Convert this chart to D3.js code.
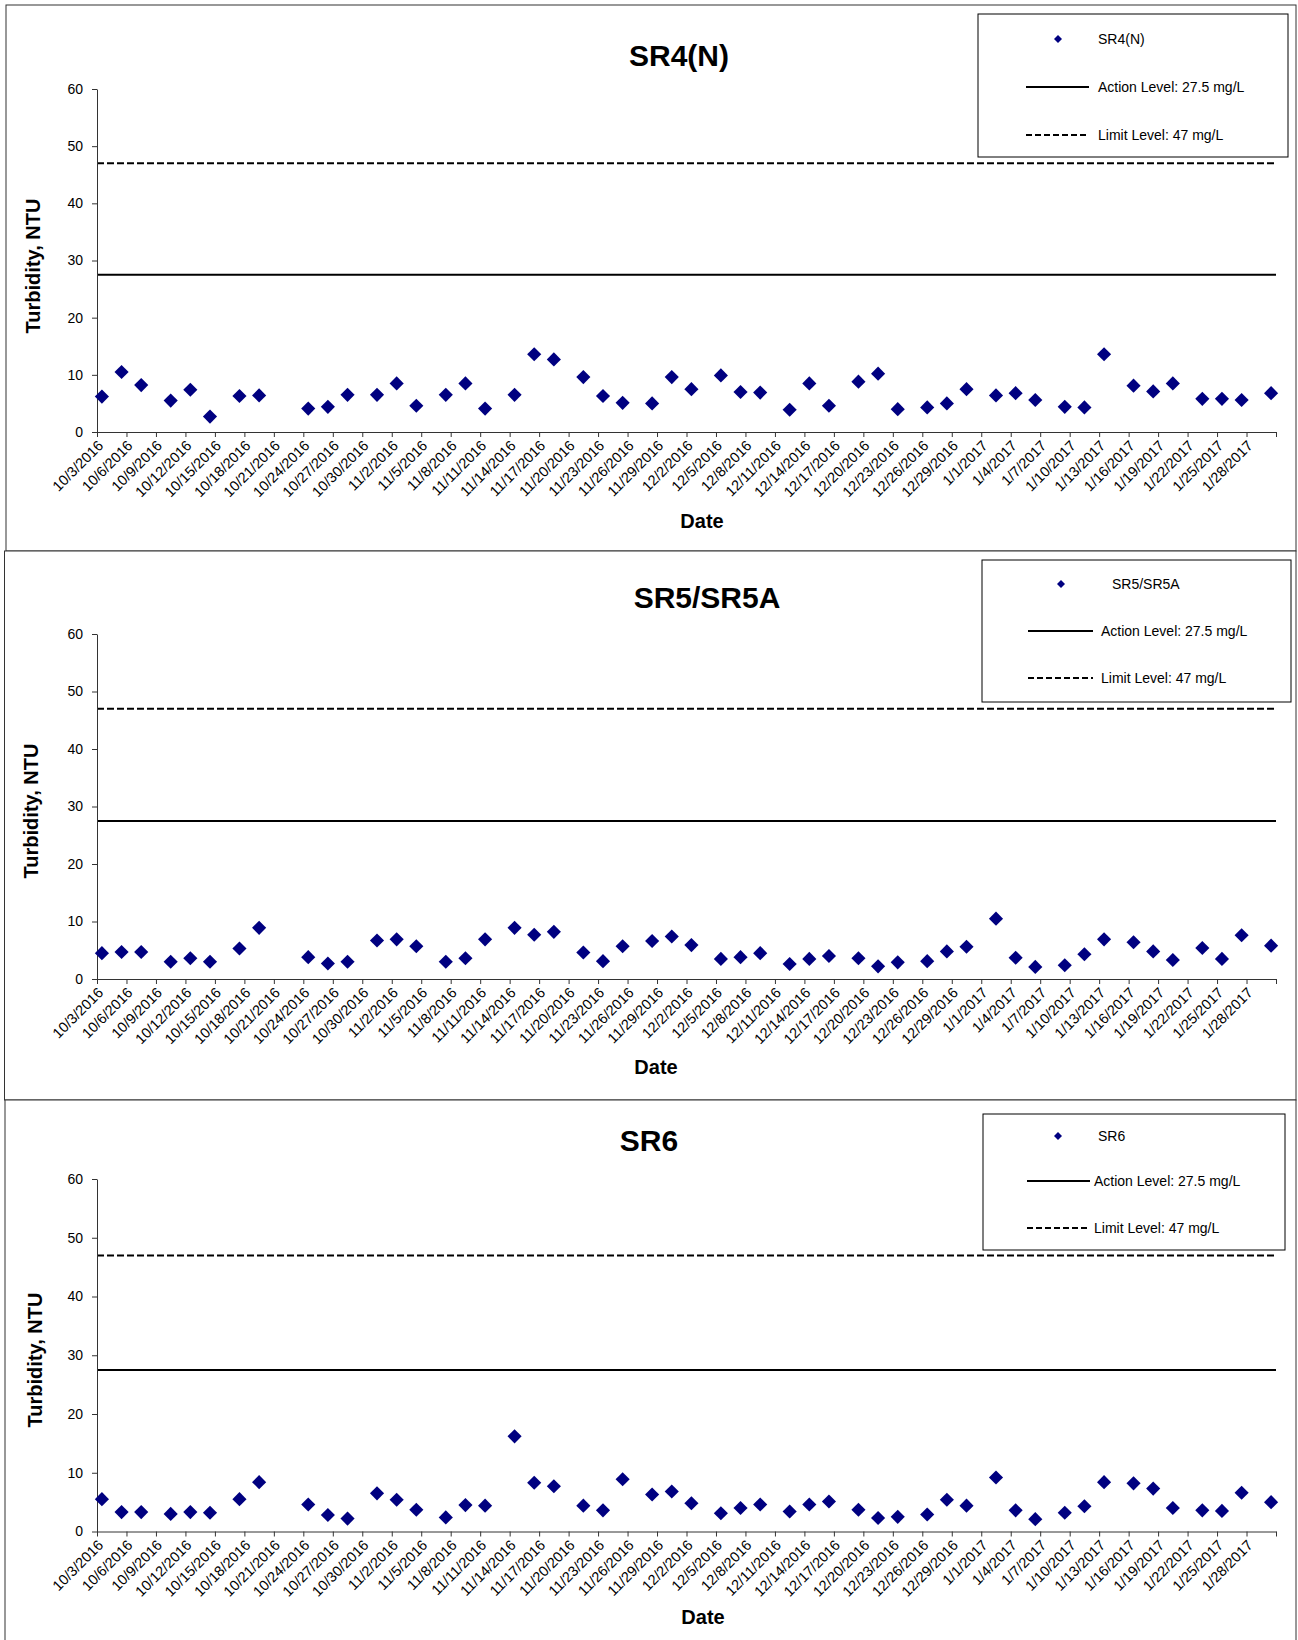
<!DOCTYPE html>
<html><head><meta charset="utf-8">
<script src="https://cdn.jsdelivr.net/npm/d3@7"></script>
<style>
html,body{margin:0;padding:0;background:#fff;}
svg{display:block;font-family:"Liberation Sans",Arial,sans-serif;}
</style></head><body>
<svg id="c" width="1298" height="1640"></svg>
<script>
// ---------------- DATA ----------------
const sampleDates = ["10/3/2016","10/5/2016","10/7/2016","10/10/2016","10/12/2016","10/14/2016","10/17/2016","10/19/2016",
"10/24/2016","10/26/2016","10/28/2016","10/31/2016","11/2/2016","11/4/2016","11/7/2016","11/9/2016","11/11/2016",
"11/14/2016","11/16/2016","11/18/2016","11/21/2016","11/23/2016","11/25/2016","11/28/2016","11/30/2016","12/2/2016",
"12/5/2016","12/7/2016","12/9/2016","12/12/2016","12/14/2016","12/16/2016","12/19/2016","12/21/2016","12/23/2016",
"12/26/2016","12/28/2016","12/30/2016","1/2/2017","1/4/2017","1/6/2017","1/9/2017","1/11/2017","1/13/2017",
"1/16/2017","1/18/2017","1/20/2017","1/23/2017","1/25/2017","1/27/2017","1/30/2017"];

const sr4Values = [6.2,10.5,8.2,5.5,7.4,2.7,6.3,6.4,4.1,4.4,6.5,6.5,8.5,4.6,6.5,8.5,4.1,6.5,13.6,12.7,9.6,6.3,5.1,5.0,9.6,7.5,
9.9,7.0,6.9,3.9,8.5,4.6,8.8,10.2,4.0,4.3,5.0,7.5,6.4,6.8,5.6,4.4,4.3,13.6,8.1,7.1,8.5,5.8,5.8,5.6,6.8];
const sr5Values = [4.5,4.7,4.7,3.0,3.6,3.0,5.3,8.9,3.8,2.7,3.0,6.7,6.9,5.7,3.0,3.6,6.9,8.9,7.7,8.2,4.6,3.1,5.7,6.6,7.4,5.9,
3.5,3.8,4.5,2.6,3.5,4.0,3.6,2.2,2.9,3.1,4.8,5.6,10.5,3.7,2.1,2.4,4.3,6.9,6.4,4.8,3.3,5.4,3.5,7.6,5.8];
const sr6Values = [5.5,3.3,3.3,3.0,3.3,3.2,5.5,8.4,4.6,2.8,2.2,6.5,5.4,3.7,2.4,4.5,4.4,16.2,8.3,7.7,4.4,3.6,8.9,6.3,6.8,4.8,
3.1,4.0,4.6,3.4,4.6,5.1,3.7,2.3,2.5,2.9,5.4,4.4,9.2,3.6,2.1,3.2,4.3,8.4,8.2,7.3,4.0,3.6,3.5,6.6,5.0];

const tickLabels = ["10/3/2016","10/6/2016","10/9/2016","10/12/2016","10/15/2016","10/18/2016","10/21/2016","10/24/2016",
"10/27/2016","10/30/2016","11/2/2016","11/5/2016","11/8/2016","11/11/2016","11/14/2016","11/17/2016","11/20/2016",
"11/23/2016","11/26/2016","11/29/2016","12/2/2016","12/5/2016","12/8/2016","12/11/2016","12/14/2016","12/17/2016",
"12/20/2016","12/23/2016","12/26/2016","12/29/2016","1/1/2017","1/4/2017","1/7/2017","1/10/2017","1/13/2017",
"1/16/2017","1/19/2017","1/22/2017","1/25/2017","1/28/2017"];
const axisEndLabel = "1/31/2017";
const yTicks = [0,10,20,30,40,50,60];
const actionLevel = 27.5;
const limitLevel = 47;
const seriesNames = ["SR4(N)","SR5/SR5A","SR6"];
const legendLabels = ["Action Level: 27.5 mg/L","Limit Level: 47 mg/L"];
const yTitle = "Turbidity, NTU";
const xTitle = "Date";

// ---------------- LAYOUT ----------------
const parse = d3.utcParse("%m/%d/%Y");
const fmt = d3.utcFormat("%-m/%-d/%Y");
const svg = d3.select("#c");
const NAVY = "#000080";

const panels = [
  {name: seriesNames[0], values: sr4Values, border:[6,5,1296,551], yTop:89, yBot:432,
   title:[679,55], ytitle:[33,266], xtitle:[702,521],
   lg:{box:[978,14,1288,157], dia:[1058,39], nameX:1098, lx:[1026,1089], sy:87, dy:135, tx:1098}},
  {name: seriesNames[1], values: sr5Values, border:[4.5,551,1296,1100], yTop:634, yBot:979,
   title:[707,597], ytitle:[31,811], xtitle:[656,1067],
   lg:{box:[982,560,1291,702], dia:[1061,584], nameX:1112, lx:[1028,1093], sy:631, dy:678, tx:1101}},
  {name: seriesNames[2], values: sr6Values, border:[5,1100,1296,1660], yTop:1179, yBot:1531.5,
   title:[649,1140], ytitle:[35,1360], xtitle:[703,1617],
   lg:{box:[983,1114,1285,1250], dia:[1058,1136], nameX:1098, lx:[1027,1090], sy:1181, dy:1228, tx:1094}}
];

const x = d3.scaleUtc()
  .domain([parse(tickLabels[0]), parse(axisEndLabel)])
  .range([97, 1276]);
const tickDates = tickLabels.map(parse).concat([parse(axisEndLabel)]);

const diamond = d3.symbol(d3.symbolSquare, 100);
const diamondSmall = d3.symbol(d3.symbolSquare, 32);

panels.forEach(p => {
  const g = svg.append("g");
  const b = p.border;
  g.append("rect").attr("x", b[0]).attr("y", b[1]).attr("width", b[2]-b[0]).attr("height", b[3]-b[1])
    .attr("fill", "#fff").attr("stroke", "#333").attr("stroke-width", 1);

  const y = d3.scaleLinear().domain([0, 60]).range([p.yBot, p.yTop]);

  // reference lines
  g.append("line").attr("x1", x.range()[0]).attr("x2", x.range()[1])
    .attr("y1", y(limitLevel)).attr("y2", y(limitLevel))
    .attr("stroke", "#000").attr("stroke-width", 2).attr("stroke-dasharray", "7,3");
  g.append("line").attr("x1", x.range()[0]).attr("x2", x.range()[1])
    .attr("y1", y(actionLevel)).attr("y2", y(actionLevel))
    .attr("stroke", "#000").attr("stroke-width", 2);

  // y axis
  const ya = g.append("g").attr("transform", `translate(${x.range()[0]},0)`)
    .call(d3.axisLeft(y).tickValues(yTicks).tickSize(5).tickPadding(9).tickSizeOuter(0));
  ya.select(".domain").attr("stroke", "#333");
  ya.selectAll(".tick line").attr("stroke", "#333");
  ya.selectAll("text").attr("font-size", 14).attr("fill", "#000")
    .attr("font-family", '"Liberation Sans",Arial,sans-serif');

  // x axis
  const xa = g.append("g").attr("transform", `translate(0,${p.yBot})`)
    .call(d3.axisBottom(x).tickValues(tickDates).tickSize(5).tickSizeOuter(0)
      .tickFormat(d => tickLabels.includes(fmt(d)) ? fmt(d) : ""));
  xa.select(".domain").attr("stroke", "#333");
  xa.selectAll(".tick line").attr("stroke", "#333");
  xa.selectAll("text").attr("font-size", 14.5).attr("fill", "#000")
    .attr("font-family", '"Liberation Sans",Arial,sans-serif')
    .attr("text-anchor", "end").attr("x", 0).attr("y", 0).attr("dy", "0.35em")
    .attr("transform", "translate(3,11) rotate(-45)");

  // points
  g.selectAll("path.pt").data(p.values).enter().append("path").attr("class", "pt")
    .attr("d", diamond)
    .attr("transform", (d, i) => `translate(${x(d3.utcHour.offset(parse(sampleDates[i]), 12))},${y(d)}) rotate(45)`)
    .attr("fill", NAVY);

  // titles
  g.append("text").attr("x", p.title[0]).attr("y", p.title[1]).attr("dy", "0.35em")
    .attr("text-anchor", "middle").attr("font-size", 30).attr("font-weight", "bold").text(p.name);
  g.append("text").attr("transform", `translate(${p.ytitle[0]},${p.ytitle[1]}) rotate(-90)`).attr("dy", "0.35em")
    .attr("text-anchor", "middle").attr("font-size", 20).attr("font-weight", "bold").text(yTitle);
  g.append("text").attr("x", p.xtitle[0]).attr("y", p.xtitle[1]).attr("dy", "0.35em")
    .attr("text-anchor", "middle").attr("font-size", 20).attr("font-weight", "bold").text(xTitle);

  // legend
  const L = p.lg;
  g.append("rect").attr("x", L.box[0]).attr("y", L.box[1]).attr("width", L.box[2]-L.box[0]).attr("height", L.box[3]-L.box[1])
    .attr("fill", "#fff").attr("stroke", "#000").attr("stroke-width", 1);
  g.append("path").attr("d", diamondSmall).attr("transform", `translate(${L.dia[0]},${L.dia[1]}) rotate(45)`).attr("fill", NAVY);
  g.append("text").attr("x", L.nameX).attr("y", L.dia[1]).attr("dy", "0.35em").attr("font-size", 14).text(p.name);
  g.append("line").attr("x1", L.lx[0]).attr("x2", L.lx[1]).attr("y1", L.sy).attr("y2", L.sy)
    .attr("stroke", "#000").attr("stroke-width", 2);
  g.append("text").attr("x", L.tx).attr("y", L.sy).attr("dy", "0.35em").attr("font-size", 14).text(legendLabels[0]);
  g.append("line").attr("x1", L.lx[0]).attr("x2", L.lx[1]).attr("y1", L.dy).attr("y2", L.dy)
    .attr("stroke", "#000").attr("stroke-width", 2).attr("stroke-dasharray", "6,3");
  g.append("text").attr("x", L.tx).attr("y", L.dy).attr("dy", "0.35em").attr("font-size", 14).text(legendLabels[1]);
});
</script>
</body></html>
